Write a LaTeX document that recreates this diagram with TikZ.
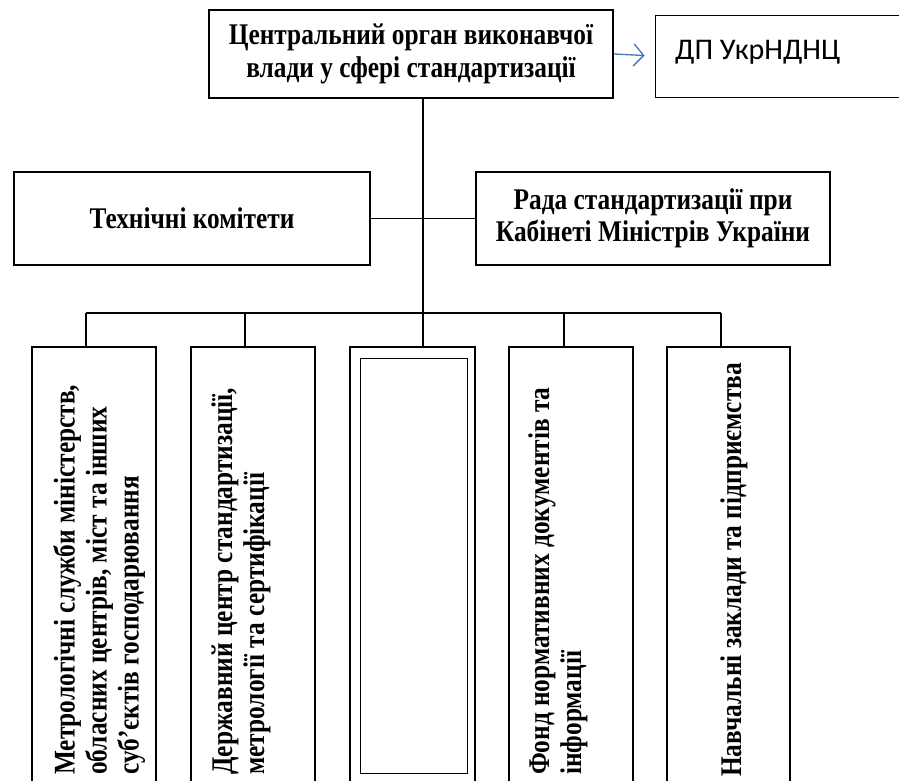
\documentclass[tikz,border=0pt]{standalone}
\usepackage{fontspec}
\setmainfont{Liberation Serif}
\newfontfamily\condfont[FakeStretch=0.845]{Liberation Serif}
\newfontfamily\dpfont{Carlito}
\usetikzlibrary{arrows.meta}
\definecolor{arrblue}{RGB}{68,114,196}
\begin{document}
\begin{tikzpicture}[x=1pt,y=-1pt,
  box/.style={draw, line width=1.7pt, inner sep=0pt, align=center},
  thinbox/.style={draw, line width=0.9pt, inner sep=0pt},
  conn/.style={line width=1.5pt},
  txt/.style={font=\condfont\bfseries\fontsize{30}{32.5}\selectfont},
  vtxt/.style={font=\condfont\bfseries\fontsize{30}{32}\selectfont, rotate=90, anchor=north west, align=left, inner sep=0pt}]
\useasboundingbox (0,0) rectangle (899,780);
\clip (0,0) rectangle (899,780);

% top row
\node[box, minimum width=404pt, minimum height=88pt, txt] (top) at (411,54) {Центральний орган виконавчої\\влади у сфері стандартизації};
\node[thinbox, minimum width=245pt, minimum height=82pt] (dp) at (777.5,56) {};
\node[font=\dpfont\fontsize{30}{34}\selectfont, anchor=base west, inner sep=0pt] (dptext) at (675,59) {ДП УкрНДНЦ};
\draw[arrblue, line width=1.3pt, -{Straight Barb[length=10pt,width=22pt]}, shorten >=10pt] (top.east) -- (dp.west);

% middle row
\node[box, minimum width=356pt, minimum height=93pt, txt] (tech) at (192,218.5) {Технічні комітети};
\node[box, minimum width=354pt, minimum height=93pt, txt] (rada) at (653,218.5) {Рада стандартизації при\\Кабінеті Міністрів України};

% bottom row
\node[box, minimum width=124pt, minimum height=460pt, anchor=north] (b1) at (94,346) {};
\node[box, minimum width=124pt, minimum height=460pt, anchor=north] (b2) at (253,346) {};
\node[box, minimum width=125pt, minimum height=460pt, anchor=north] (b3) at (412.5,346) {};
\node[thinbox, minimum width=107pt, minimum height=415pt, anchor=north] (b3in) at (413.5,358) {};
\node[box, minimum width=124pt, minimum height=460pt, anchor=north] (b4) at (571,346) {};
\node[box, minimum width=123pt, minimum height=460pt, anchor=north] (b5) at (728.5,346) {};

\node[vtxt] (t1) at (53,775) {Метрологічні служби міністерств,\\обласних центрів, міст та інших\\суб’єктів господарювання};
\node[vtxt] (t2) at (211,775) {Державний центр стандартизації,\\метрології та сертифікації};
\node[vtxt] (t4) at (528,775) {Фонд нормативних документів та\\інформації};
\node[vtxt] (t5) at (720,777) {Навчальні заклади та підприємства};

% connectors
\coordinate (s1) at (86,313);
\coordinate (s2) at (245,313);
\coordinate (s3) at (423,313);
\coordinate (s4) at (564,313);
\coordinate (s5) at (721,313);
\draw[conn] (s3 |- top.south) -- (s3 |- b3.north);
\draw[conn] (tech.east) -- (rada.west);
\draw[conn] (s1) -- (s5);
\draw[conn] (s1) -- (s1 |- b1.north);
\draw[conn] (s2) -- (s2 |- b2.north);
\draw[conn] (s4) -- (s4 |- b4.north);
\draw[conn] (s5) -- (s5 |- b5.north);
\end{tikzpicture}
\end{document}
